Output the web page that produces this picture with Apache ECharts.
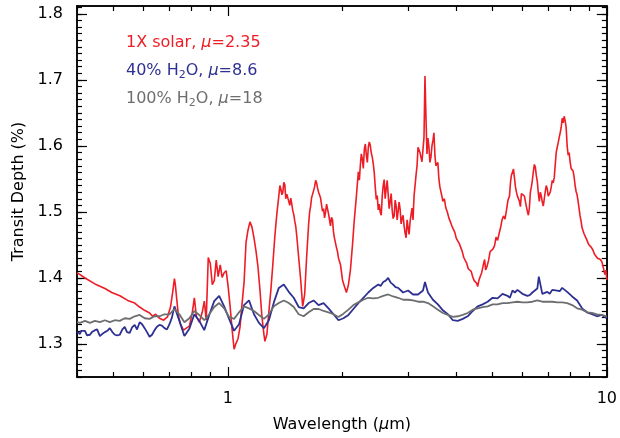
<!DOCTYPE html>
<html><head><meta charset="utf-8">
<script src="https://cdn.jsdelivr.net/npm/echarts@6/dist/echarts.min.js"></script>
<style>html,body{margin:0;padding:0;background:#fff}#c{width:620px;height:438px}</style>
</head><body><div id="c"></div>
<script>
// Wavelength (um), transit depth (%)
const solarSeries = [[0.400,1.408],[0.420,1.400],[0.446,1.391],[0.474,1.384],[0.494,1.378],[0.519,1.373],[0.544,1.366],[0.568,1.362],[0.585,1.356],[0.603,1.351],[0.622,1.347],[0.633,1.342],[0.645,1.345],[0.660,1.339],[0.677,1.336],[0.693,1.341],[0.706,1.356],[0.714,1.375],[0.723,1.399],[0.727,1.390],[0.732,1.372],[0.741,1.342],[0.750,1.330],[0.764,1.321],[0.777,1.324],[0.792,1.327],[0.806,1.348],[0.816,1.370],[0.826,1.342],[0.841,1.333],[0.856,1.348],[0.867,1.365],[0.877,1.336],[0.888,1.431],[0.899,1.422],[0.910,1.390],[0.921,1.396],[0.932,1.427],[0.943,1.402],[0.955,1.420],[0.966,1.401],[0.978,1.408],[0.990,1.411],[1.002,1.387],[1.014,1.357],[1.026,1.323],[1.039,1.292],[1.051,1.301],[1.064,1.308],[1.077,1.326],[1.090,1.360],[1.104,1.394],[1.117,1.454],[1.130,1.472],[1.144,1.485],[1.158,1.477],[1.172,1.461],[1.186,1.442],[1.201,1.417],[1.216,1.381],[1.230,1.342],[1.245,1.315],[1.253,1.304],[1.268,1.315],[1.283,1.348],[1.299,1.382],[1.315,1.422],[1.331,1.464],[1.347,1.497],[1.363,1.524],[1.380,1.535],[1.397,1.530],[1.414,1.541],[1.431,1.527],[1.448,1.516],[1.466,1.521],[1.484,1.502],[1.502,1.486],[1.520,1.464],[1.538,1.431],[1.557,1.397],[1.576,1.357],[1.595,1.375],[1.614,1.431],[1.634,1.482],[1.654,1.509],[1.674,1.527],[1.694,1.538],[1.715,1.544],[1.736,1.530],[1.757,1.521],[1.778,1.501],[1.800,1.491],[1.822,1.512],[1.844,1.497],[1.866,1.479],[1.889,1.488],[1.912,1.460],[1.935,1.446],[1.959,1.430],[1.983,1.420],[2.007,1.397],[2.031,1.387],[2.056,1.378],[2.081,1.390],[2.106,1.412],[2.132,1.449],[2.157,1.489],[2.184,1.524],[2.210,1.561],[2.237,1.571],[2.264,1.580],[2.292,1.595],[2.320,1.586],[2.348,1.598],[2.376,1.601],[2.405,1.583],[2.420,1.573],[2.449,1.538],[2.464,1.519],[2.494,1.503],[2.524,1.500],[2.555,1.524],[2.586,1.549],[2.617,1.535],[2.649,1.527],[2.682,1.516],[2.714,1.503],[2.747,1.494],[2.781,1.509],[2.814,1.501],[2.849,1.504],[2.883,1.491],[2.918,1.479],[2.954,1.461],[2.990,1.476],[3.026,1.485],[3.063,1.506],[3.100,1.524],[3.138,1.556],[3.176,1.598],[3.214,1.590],[3.253,1.576],[3.293,1.613],[3.313,1.706],[3.333,1.643],[3.353,1.588],[3.394,1.598],[3.435,1.583],[3.477,1.608],[3.519,1.586],[3.562,1.568],[3.605,1.550],[3.649,1.531],[3.693,1.516],[3.761,1.506],[3.830,1.491],[3.900,1.479],[3.971,1.469],[4.044,1.457],[4.118,1.446],[4.193,1.431],[4.270,1.422],[4.348,1.412],[4.427,1.402],[4.508,1.394],[4.563,1.387],[4.619,1.400],[4.675,1.408],[4.731,1.422],[4.789,1.412],[4.877,1.427],[4.966,1.439],[5.056,1.449],[5.149,1.457],[5.243,1.476],[5.339,1.494],[5.437,1.503],[5.536,1.524],[5.603,1.556],[5.671,1.565],[5.740,1.538],[5.810,1.524],[5.881,1.516],[5.952,1.528],[6.061,1.524],[6.172,1.501],[6.247,1.506],[6.323,1.538],[6.400,1.561],[6.477,1.568],[6.556,1.546],[6.636,1.516],[6.717,1.524],[6.798,1.509],[6.880,1.531],[6.964,1.535],[7.049,1.521],[7.135,1.538],[7.221,1.544],[7.309,1.571],[7.398,1.598],[7.488,1.613],[7.579,1.628],[7.671,1.635],[7.717,1.645],[7.811,1.628],[7.906,1.586],[8.002,1.576],[8.100,1.568],[8.198,1.553],[8.298,1.531],[8.399,1.516],[8.500,1.494],[8.604,1.476],[8.708,1.467],[8.868,1.457],[9.030,1.449],[9.195,1.442],[9.363,1.434],[9.535,1.431],[9.709,1.424],[9.827,1.420],[9.946,1.412],[10.0,1.397]];

// extra fine-structure readings of the same curve
const solarExtra = [[1.372,1.540],[1.389,1.526],[1.405,1.545],[1.422,1.520],[1.440,1.524],[1.457,1.510],[1.475,1.512],[1.493,1.496],[1.511,1.478],[1.644,1.500],[1.664,1.522],[1.684,1.530],[1.705,1.548],[1.725,1.536],[1.746,1.528],[1.768,1.510],[1.789,1.505],[1.811,1.500],[1.833,1.515],[1.855,1.488],[1.877,1.492],[1.900,1.470],[1.923,1.458],[1.947,1.440],[1.971,1.425],[2.224,1.548],[2.250,1.588],[2.278,1.566],[2.306,1.603],[2.334,1.575],[2.362,1.606],[2.390,1.590],[2.434,1.560],[2.479,1.525],[2.509,1.512],[2.540,1.495],[2.570,1.540],[2.601,1.520],[2.633,1.548],[2.665,1.505],[2.698,1.528],[2.730,1.490],[2.764,1.518],[2.797,1.488],[2.831,1.515],[2.866,1.482],[2.900,1.495],[2.936,1.468],[2.972,1.488],[3.008,1.466],[3.044,1.496],[3.081,1.488],[3.119,1.540],[3.157,1.570],[3.373,1.612],[3.414,1.575],[3.456,1.600],[3.498,1.620],[3.540,1.570],[3.583,1.575],[3.627,1.538],[3.671,1.524],[3.727,1.520],[3.795,1.500],[3.865,1.488],[3.935,1.474],[4.007,1.460],[4.081,1.452],[4.155,1.440],[4.231,1.428],[4.309,1.414],[4.387,1.410],[4.467,1.396],[4.535,1.392],[4.591,1.395],[4.647,1.398],[4.703,1.415],[4.760,1.428],[4.833,1.418],[4.921,1.440],[5.011,1.444],[5.102,1.462],[5.196,1.467],[5.291,1.488],[5.388,1.489],[5.486,1.518],[5.570,1.545],[5.637,1.560],[5.705,1.552],[5.775,1.530],[5.845,1.522],[5.916,1.508],[6.006,1.530],[6.116,1.512],[6.209,1.495],[6.285,1.530],[6.361,1.548],[6.438,1.572],[6.516,1.555],[6.596,1.528],[6.676,1.530],[6.757,1.515],[6.839,1.520],[6.922,1.540],[7.006,1.524],[7.092,1.530],[7.178,1.548],[7.265,1.552],[7.353,1.590],[7.443,1.605],[7.533,1.620],[7.625,1.642],[7.764,1.638],[7.858,1.600],[7.954,1.590],[8.051,1.566],[8.149,1.562],[8.248,1.540],[8.348,1.526],[8.450,1.505],[8.552,1.486],[8.656,1.474],[8.788,1.462],[8.949,1.451],[9.112,1.446],[9.279,1.436],[9.449,1.430],[9.622,1.428],[9.768,1.418],[9.886,1.405]];

const waterWl = [0.400,0.4074,0.4199,0.4328,0.4461,0.4597,0.4738,0.4883,0.5033,0.5187,0.5346,0.5510,0.5679,0.5853,0.6033,0.6217,0.6408,0.6604,0.6807,0.7015,0.7230,0.7452,0.7681,0.7916,0.8159,0.8408,0.8666,0.8932,0.9206,0.9488,0.9779,1.0079,1.0388,1.0706,1.1035,1.1373,1.1722,1.2081,1.2452,1.2833,1.3227,1.3632,1.4050,1.4481,1.4925,1.5382,1.5854,1.6340,1.6841,1.7357,1.7890,1.8438,1.9004,1.9586,2.0187,2.0806,2.1445,2.2101,2.2779,2.3477,2.4198,2.4940,2.5706,2.6493,2.7306,2.8142,2.9006,2.9895,3.0813,3.1756,3.2731,3.3734,3.4770,3.5834,3.6934,3.8065,3.9233,4.0436,4.1677,4.2953,4.4272,4.5628,4.7028,4.8469,4.9957,5.1487,5.3067,5.4693,5.6372,5.8098,5.9881,6.1716,6.3610,6.5559,6.7571,6.9641,7.1778,7.3977,7.6248,7.8583,8.0995,8.3477,8.6039,8.8675,9.1396,9.4196,9.7087,10.0];

const water40Depth = [1.318,1.315,1.320,1.314,1.321,1.312,1.318,1.324,1.314,1.314,1.326,1.317,1.329,1.333,1.324,1.311,1.321,1.329,1.324,1.330,1.357,1.335,1.312,1.323,1.345,1.335,1.321,1.344,1.365,1.373,1.357,1.338,1.320,1.330,1.359,1.366,1.345,1.332,1.324,1.336,1.363,1.385,1.390,1.379,1.370,1.356,1.354,1.362,1.366,1.359,1.362,1.354,1.345,1.336,1.339,1.344,1.353,1.362,1.370,1.378,1.385,1.390,1.394,1.400,1.390,1.385,1.378,1.381,1.375,1.375,1.381,1.378,1.367,1.360,1.351,1.345,1.336,1.335,1.338,1.342,1.350,1.357,1.360,1.364,1.370,1.369,1.376,1.373,1.381,1.382,1.376,1.373,1.378,1.384,1.376,1.379,1.382,1.381,1.385,1.379,1.372,1.366,1.354,1.348,1.345,1.342,1.344,1.339];

const water40Extra = [[0.410,1.320],[0.425,1.313],[0.438,1.318],[0.452,1.322],[0.466,1.315],[0.481,1.320],[0.496,1.318],[0.511,1.313],[0.527,1.322],[0.542,1.318],[0.559,1.325],[0.576,1.322],[0.594,1.330],[0.612,1.318],[0.631,1.314],[0.650,1.326],[0.670,1.328],[0.691,1.322],[0.712,1.340],[2.53,1.388],[2.61,1.396],[2.69,1.393],[2.77,1.386],[3.313,1.394],[5.55,1.370],[5.72,1.378],[6.26,1.374],[6.616,1.402],[7.07,1.376],[7.51,1.380]];

const water100Depth = [1.333,1.332,1.335,1.332,1.335,1.333,1.336,1.333,1.336,1.335,1.339,1.338,1.342,1.344,1.339,1.338,1.342,1.342,1.345,1.345,1.353,1.345,1.333,1.339,1.350,1.344,1.336,1.345,1.356,1.362,1.354,1.341,1.338,1.348,1.357,1.354,1.350,1.344,1.338,1.345,1.357,1.362,1.366,1.362,1.356,1.345,1.342,1.348,1.353,1.353,1.350,1.348,1.345,1.341,1.346,1.352,1.359,1.363,1.367,1.370,1.369,1.370,1.373,1.375,1.372,1.370,1.367,1.367,1.366,1.364,1.364,1.362,1.357,1.352,1.347,1.344,1.341,1.342,1.344,1.347,1.352,1.354,1.356,1.357,1.360,1.360,1.362,1.362,1.363,1.364,1.363,1.363,1.364,1.366,1.364,1.364,1.364,1.363,1.363,1.362,1.359,1.354,1.352,1.348,1.347,1.345,1.344,1.342];

const xMajorTicks = [1, 10];
const xMinorTicks = [0.4,0.5,0.6,0.7,0.8,0.9,2,3,4,5,6,7,8,9];
const yMajorTicks = [1.3,1.4,1.5,1.6,1.7,1.8];
const yMinorTicks = [];
for (let k = 25; k <= 81; k++) yMinorTicks.push(Math.round(100 + k) / 100);

const legendLines = [
  {text: '1X solar, {i|μ}=2.35', color: '#ee1c25'},
  {text: '40% H{s|2}O, {i|μ}=8.6', color: '#2e3192'},
  {text: '100% H{s|2}O, {i|μ}=18', color: '#6d6e70'}
];

function zip(wl, d) { return wl.map((w, i) => [w, d[i]]); }
const byWl = (a, b) => a[0] - b[0];
const redData = solarSeries.concat(solarExtra).sort(byWl);
const blueData = zip(waterWl, water40Depth).concat(water40Extra).sort(byWl);
const grayData = zip(waterWl, water100Depth);

const FONT = 'DejaVu Sans';
const black = '#000';
function xAx(pos, ticks, len, showLabel) {
  return {
    type: 'log', logBase: 10, min: 0.4, max: 10, position: pos, gridIndex: 0,
    axisLine: {show: true, onZero: false, lineStyle: {color: black, width: 1.5}},
    axisTick: {show: true, inside: true, length: len, customValues: ticks, lineStyle: {color: black, width: 1.2}},
    axisLabel: showLabel ? {show: true, customValues: xMajorTicks, margin: 14, fontFamily: FONT, fontSize: 16, color: black, formatter: v => String(Math.round(v))} : {show: false},
    splitLine: {show: false}, minorTick: {show: false}
  };
}
function yAx(pos, ticks, len, showLabel) {
  return {
    type: 'value', min: 1.25, max: 1.812, position: pos, gridIndex: 0,
    axisLine: {show: true, onZero: false, lineStyle: {color: black, width: 1.5}},
    axisTick: {show: true, inside: true, length: len, customValues: ticks, lineStyle: {color: black, width: 1.2}},
    axisLabel: showLabel ? {show: true, customValues: yMajorTicks, margin: 14, fontFamily: FONT, fontSize: 16, color: black, formatter: v => v.toFixed(1)} : {show: false},
    splitLine: {show: false}
  };
}

const chart = echarts.init(document.getElementById('c'), null, {renderer: 'canvas'});
const xa = [xAx('bottom', xMajorTicks, 10, true), xAx('bottom', xMinorTicks, 5, false), xAx('top', xMajorTicks, 10, false), xAx('top', xMinorTicks, 5, false)];
xa[0].name = 'Wavelength ({i|μ}m)';
xa[0].nameLocation = 'middle';
xa[0].nameGap = 40;
xa[0].nameTextStyle = {fontFamily: FONT, fontSize: 16, color: black, rich: {i: {fontFamily: FONT, fontSize: 16, fontStyle: 'italic', color: black}}};
const ya = [yAx('left', yMajorTicks, 10, true), yAx('left', yMinorTicks, 5, false), yAx('right', yMajorTicks, 10, false), yAx('right', yMinorTicks, 5, false)];
ya[0].name = 'Transit Depth (%)';
ya[0].nameLocation = 'middle';
ya[0].nameGap = 46;
ya[0].nameTextStyle = {fontFamily: FONT, fontSize: 16, color: black};

chart.setOption({
  animation: false,
  backgroundColor: '#fff',
  grid: {left: 77, right: 10, top: 6, bottom: 54, containLabel: false},
  xAxis: xa,
  yAxis: ya,
  graphic: legendLines.map((l, i) => ({
    type: 'text', left: 126, top: 35 + i * 28, z: 10,
    style: {text: l.text, fill: l.color, font: '16px "' + FONT + '"',
      rich: {
        i: {fill: l.color, fontFamily: FONT, fontSize: 16, fontStyle: 'italic'},
        s: {fill: l.color, fontFamily: FONT, fontSize: 11, padding: [8, 0, 0, 0]}
      }}
  })),
  series: [
    {type: 'line', name: 'solar', data: redData, showSymbol: false, symbol: 'none', lineStyle: {color: '#ee1c25', width: 1.6}, xAxisIndex: 0, yAxisIndex: 0, z: 3},
    {type: 'line', name: 'w40', data: blueData, showSymbol: false, symbol: 'none', lineStyle: {color: '#2e3192', width: 1.8}, xAxisIndex: 0, yAxisIndex: 0, z: 4},
    {type: 'line', name: 'w100', data: grayData, showSymbol: false, symbol: 'none', lineStyle: {color: '#6d6e70', width: 1.8}, xAxisIndex: 0, yAxisIndex: 0, z: 5}
  ]
});
</script></body></html>
